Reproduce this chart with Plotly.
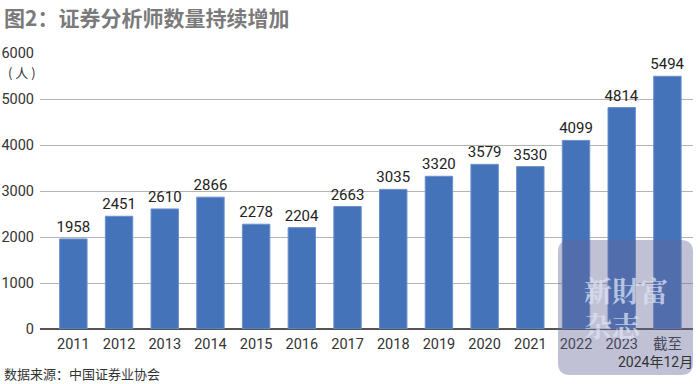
import plotly.graph_objects as go

years = ["2011", "2012", "2013", "2014", "2015", "2016", "2017", "2018",
         "2019", "2020", "2021", "2022", "2023", "2024"]
tick_labels = ["2011", "2012", "2013", "2014", "2015", "2016", "2017", "2018",
               "2019", "2020", "2021", "2022", "2023", "截至"]
last_tick_note = "2024年12月"
analysts = [1958, 2451, 2610, 2866, 2278, 2204, 2663, 3035,
            3320, 3579, 3530, 4099, 4814, 5494]

NUM_FONT = "Roboto, Noto Sans CJK SC, sans-serif"
CJK_FONT = "Noto Sans CJK SC, sans-serif"

fig = go.Figure()
fig.add_trace(go.Bar(
    x=years, y=analysts,
    marker=dict(color="#4573b9", line=dict(color="#6b90cc", width=1)),
    text=analysts, texttemplate="%{text}", textposition="outside",
    textfont=dict(family=NUM_FONT, size=15, color="#222222"),
    constraintext="none",
    cliponaxis=False,
))

fig.update_layout(
    width=700, height=384,
    margin=dict(l=40, r=7, t=53, b=55),
    paper_bgcolor="white", plot_bgcolor="white",
    bargap=0.4,
    showlegend=False,
    font=dict(family=NUM_FONT, color="#333333"),
    xaxis=dict(
        type="category", range=[-0.73, 13.56],
        tickvals=years, ticktext=tick_labels, tickangle=0,
        tickfont=dict(family=NUM_FONT, size=14.5, color="#333333"),
        showgrid=False, showline=False, ticks="", ticklabelstandoff=4,
        zeroline=False, automargin=False,
    ),
    yaxis=dict(
        range=[0, 6000], tickvals=[0, 1000, 2000, 3000, 4000, 5000, 6000],
        tickfont=dict(family=NUM_FONT, size=14.5, color="#333333"),
        showgrid=True, gridcolor="#b3b3b3", gridwidth=1,
        zeroline=True, zerolinecolor="#555555", zerolinewidth=1.5,
        showline=False, ticks="", ticklabelstandoff=5, automargin=False,
    ),
)

def px_x(v):
    return (v - 40) / 653

def px_y(v):
    return (329 - v) / 276

# Title, unit label, second line of last tick and source
fig.add_annotation(text="<b>图2：证券分析师数量持续增加</b>", xref="paper", yref="paper",
                   x=px_x(2), y=px_y(17), xanchor="left", yanchor="middle",
                   showarrow=False, font=dict(family=CJK_FONT, size=21, color="#7a7a7a"))
fig.add_annotation(text="( 人 )", xref="paper", yref="paper",
                   x=px_x(22), y=px_y(72), xanchor="center", yanchor="middle",
                   showarrow=False, font=dict(family=CJK_FONT, size=13, color="#333333"))
fig.add_annotation(text=last_tick_note, xref="paper", yref="paper",
                   x=px_x(695), y=px_y(362), xanchor="right", yanchor="middle",
                   showarrow=False, font=dict(family=NUM_FONT, size=14, color="#333333"))
fig.add_annotation(text="数据来源：中国证券业协会", xref="paper", yref="paper",
                   x=px_x(2), y=px_y(373), xanchor="left", yanchor="middle",
                   showarrow=False, font=dict(family=CJK_FONT, size=13, color="#333333"))

# Watermark (rounded box)
x0, x1, y0, y1, r = 558, 693, 240, 375, 12
path = (f"M {px_x(x0+r)},{px_y(y0)} L {px_x(x1-r)},{px_y(y0)} "
        f"Q {px_x(x1)},{px_y(y0)} {px_x(x1)},{px_y(y0+r)} "
        f"L {px_x(x1)},{px_y(y1-r)} Q {px_x(x1)},{px_y(y1)} {px_x(x1-r)},{px_y(y1)} "
        f"L {px_x(x0+r)},{px_y(y1)} Q {px_x(x0)},{px_y(y1)} {px_x(x0)},{px_y(y1-r)} "
        f"L {px_x(x0)},{px_y(y0+r)} Q {px_x(x0)},{px_y(y0)} {px_x(x0+r)},{px_y(y0)} Z")
fig.add_shape(type="path", path=path, xref="paper", yref="paper",
              fillcolor="rgba(100,100,150,0.4)", line=dict(width=0), layer="above")
fig.add_annotation(text="<b>新財富</b>", xref="paper", yref="paper",
                   x=px_x(626), y=px_y(290), xanchor="center", yanchor="middle",
                   showarrow=False, font=dict(family="Noto Serif CJK SC, Noto Sans CJK SC", size=28,
                                               color="rgba(220,226,243,0.75)"))
fig.add_annotation(text="<b>杂志</b>", xref="paper", yref="paper",
                   x=px_x(613), y=px_y(325), xanchor="center", yanchor="middle",
                   showarrow=False, font=dict(family="Noto Serif CJK SC, Noto Sans CJK SC", size=28,
                                               color="rgba(220,226,243,0.75)"))

fig.write_html("out.html", config={"displayModeBar": False},
               post_script="document.body.style.margin='0px';")
